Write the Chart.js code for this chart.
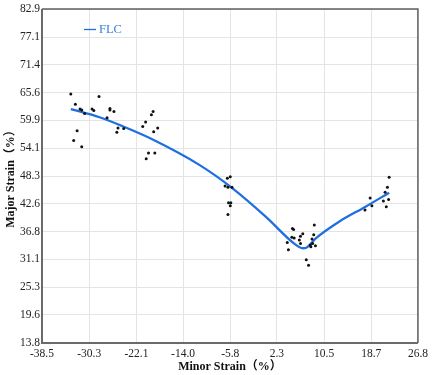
<!DOCTYPE html>
<html>
<head>
<meta charset="utf-8">
<script src="https://cdn.jsdelivr.net/npm/chart.js@4"></script>
<style>
  html, body { margin: 0; padding: 0; background: #fff; }
  #wrap { width: 432px; height: 375px; }
</style>
</head>
<body>
<div id="wrap"><canvas id="flcChart" width="432" height="375"></canvas></div>
<script>
const xTicks = [-38.5, -30.3, -22.1, -14.0, -5.8, 2.3, 10.5, 18.7, 26.8];
const yTicks = [13.8, 19.6, 25.3, 31.1, 36.8, 42.6, 48.3, 54.1, 59.9, 65.6, 71.4, 77.1, 82.9];

// measured strain points
const ptsX = [-33.5, -32.7, -31.9, -31.6, -31.1, -29.8, -29.5, -28.6, -27.2, -26.7, -26.7, -26.0, -25.3, -25.5, -24.3, -32.4, -33.0, -31.6,
  -21.0, -20.5, -19.5, -19.2, -18.4, -19.1, -20.0, -18.9, -20.4,
  -6.3, -5.8, -6.7, -6.2, -5.5, -6.1, -5.7, -5.8, -6.2,
  5.0, 5.2, 8.8, 4.9, 5.3, 4.1, 4.3, 6.4, 6.8, 6.2, 6.4, 8.7, 8.4, 8.5, 8.1, 9.0, 8.2, 7.4, 7.8,
  17.6, 18.5, 18.8, 20.8, 21.3, 21.1, 21.5, 21.7, 21.8];
const ptsY = [65.3, 63.2, 62.2, 62.0, 61.3, 62.2, 61.9, 64.8, 60.4, 62.3, 62.0, 61.7, 58.3, 57.4, 58.2, 57.7, 55.7, 54.4,
  58.6, 59.5, 61.0, 61.7, 58.3, 57.5, 53.1, 53.1, 51.9,
  47.9, 48.2, 46.3, 46.0, 46.0, 42.8, 42.8, 42.2, 40.4,
  37.5, 37.3, 38.2, 35.7, 35.5, 34.6, 33.1, 35.9, 36.4, 35.1, 34.4, 36.2, 35.3, 34.4, 34.1, 33.9, 33.7, 31.0, 29.9,
  41.3, 43.8, 42.2, 43.2, 42.0, 45.0, 46.0, 43.5, 48.1];

// forming limit curve
const flcX = [-33.5, -28.5, -24.4, -19.8, -11.1, -5.4, 0.4, 5.6, 6.8, 7.4, 9.1, 13.1, 17.7, 21.8];
const flcY = [62.2, 60.5, 58.6, 56.2, 50.6, 45.8, 39.9, 34.1, 33.4, 33.5, 35.5, 38.9, 42.0, 44.9];

const serif = "'Liberation Serif', 'DejaVu Serif', 'Noto Sans CJK SC', serif";

const framePlugin = {
  id: "frame",
  afterDatasetsDraw(chart) {
    const { ctx, chartArea: a } = chart;
    ctx.save();
    ctx.strokeStyle = "#5f5f5f";
    ctx.lineWidth = 1.5;
    ctx.beginPath();
    ctx.moveTo(a.left, a.top);
    ctx.lineTo(a.right, a.top);
    ctx.lineTo(a.right, a.bottom);
    ctx.stroke();
    ctx.lineWidth = 2;
    ctx.strokeStyle = "#6a6a6a";
    ctx.beginPath();
    ctx.moveTo(a.left, a.top);
    ctx.lineTo(a.left, a.bottom);
    ctx.lineTo(a.right, a.bottom);
    ctx.stroke();
    ctx.restore();
  }
};

const legendPlugin = {
  id: "flcLegend",
  afterDraw(chart) {
    const ds = chart.data.datasets[1];
    const { ctx } = chart;
    ctx.save();
    ctx.strokeStyle = ds.borderColor;
    ctx.lineWidth = 1.3;
    ctx.beginPath();
    ctx.moveTo(84, 29.5);
    ctx.lineTo(96, 29.5);
    ctx.stroke();
    ctx.fillStyle = "#3b80d8";
    ctx.font = "12.5px " + serif;
    ctx.textBaseline = "middle";
    ctx.fillText(ds.label, 99, 30);
    ctx.restore();
  }
};

const ctx = document.getElementById("flcChart").getContext("2d");
new Chart(ctx, {
  type: "scatter",
  data: {
    datasets: [
      {
        label: "Points",
        data: ptsX.map((x, i) => ({ x: x, y: ptsY[i] })),
        pointRadius: 1.5,
        pointBackgroundColor: "#111",
        pointBorderWidth: 0
      },
      {
        label: "FLC",
        data: flcX.map((x, i) => ({ x: x, y: flcY[i] })),
        showLine: true,
        pointRadius: 0,
        borderColor: "#1f6fe0",
        borderWidth: 2.3,
        cubicInterpolationMode: "monotone"
      }
    ]
  },
  options: {
    responsive: false,
    animation: false,
    devicePixelRatio: 1,
    layout: { padding: { top: 9, right: 13, left: 4, bottom: 1 } },
    plugins: { legend: { display: false }, tooltip: { enabled: false } },
    scales: {
      x: {
        type: "linear",
        min: -38.5,
        max: 26.8,
        afterBuildTicks: s => { s.ticks = xTicks.map(v => ({ value: v })); },
        afterFit: s => { s.height = 31; },
        border: { display: false },
        grid: { color: "#e4e4e4", lineWidth: 1, drawTicks: false },
        ticks: {
          padding: 4,
          color: "#222",
          font: { family: serif, size: 11.5 },
          maxRotation: 0,
          callback: v => v.toFixed(1)
        },
        title: {
          display: true,
          text: "Minor Strain（%）",
          color: "#111",
          padding: 0,
          font: { family: serif, size: 12, weight: "bold" }
        }
      },
      y: {
        type: "linear",
        min: 13.8,
        max: 82.9,
        afterBuildTicks: s => { s.ticks = yTicks.map(v => ({ value: v })); },
        afterFit: s => { s.width = 38; },
        border: { display: false },
        grid: { color: "#e4e4e4", lineWidth: 1, drawTicks: false },
        ticks: {
          padding: 2,
          color: "#222",
          font: { family: serif, size: 11.5 },
          callback: v => v.toFixed(1)
        },
        title: {
          display: true,
          text: "Major Strain（%）",
          color: "#111",
          padding: 0,
          font: { family: serif, size: 12, weight: "bold" }
        }
      }
    }
  },
  plugins: [framePlugin, legendPlugin]
});
</script>
</body>
</html>
